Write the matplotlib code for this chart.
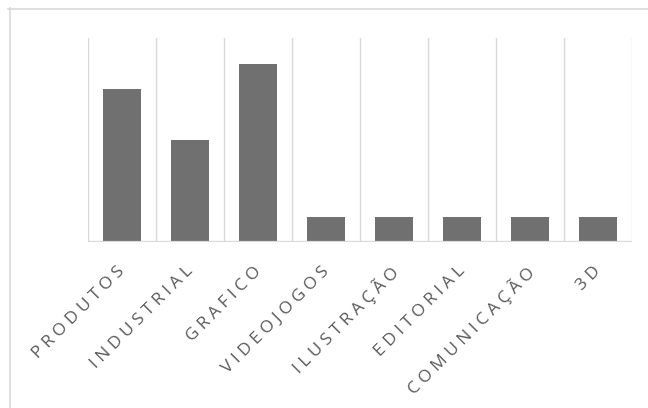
import matplotlib
matplotlib.use("Agg")
import matplotlib.pyplot as plt
import matplotlib.transforms as mtransforms
from matplotlib.lines import Line2D

categories = ["PRODUTOS", "INDUSTRIAL", "GRAFICO", "VIDEOJOGOS",
              "ILUSTRAÇÃO", "EDITORIAL", "COMUNICAÇÃO", "3D"]
values = [6, 4, 7, 1, 1, 1, 1, 1]
y_max = 8

grid_col = "#d9d9d9"
bar_col = "#707070"
text_col = "#595959"

fig = plt.figure(figsize=(6.48, 4.08), dpi=100)
ax = fig.add_axes([88 / 648, 1 - 242 / 408, 544 / 648, 204 / 408])

x = list(range(len(categories)))
ax.bar(x, values, width=0.565, color=bar_col, zorder=2)
ax.set_xlim(-0.5, len(categories) - 0.5)
ax.set_ylim(0, y_max)

# category separators
for i in range(len(categories) + 1):
    ax.axvline(i - 0.5, color=grid_col, lw=1.0, zorder=1)
ax.axhline(0, color=grid_col, lw=1.6, zorder=3)

for s in ax.spines.values():
    s.set_visible(False)
ax.set_yticks([])
ax.set_xticks(x)
# Excel-style letter spacing
spaced = ["\u2005".join(c) for c in categories]
ax.set_xticklabels(spaced, rotation=45, ha="right", rotation_mode="anchor",
                   fontsize=12.5, color=text_col,
                   family=["Open Sans", "DejaVu Sans"])
ax.tick_params(axis="x", length=0, pad=14)
shift = mtransforms.ScaledTranslation(-5 / 100, -2 / 100, fig.dpi_scale_trans)
for lbl in ax.get_xticklabels():
    lbl.set_transform(lbl.get_transform() + shift)

# chart area border (top and left visible)
fig.add_artist(Line2D([8 / 648, 1], [1 - 8.5 / 408] * 2, color=grid_col, lw=1.2,
                      transform=fig.transFigure))
fig.add_artist(Line2D([9.5 / 648] * 2, [0, 1 - 8 / 408], color=grid_col, lw=1.2,
                      transform=fig.transFigure))

fig.savefig("out.png", dpi=100)
